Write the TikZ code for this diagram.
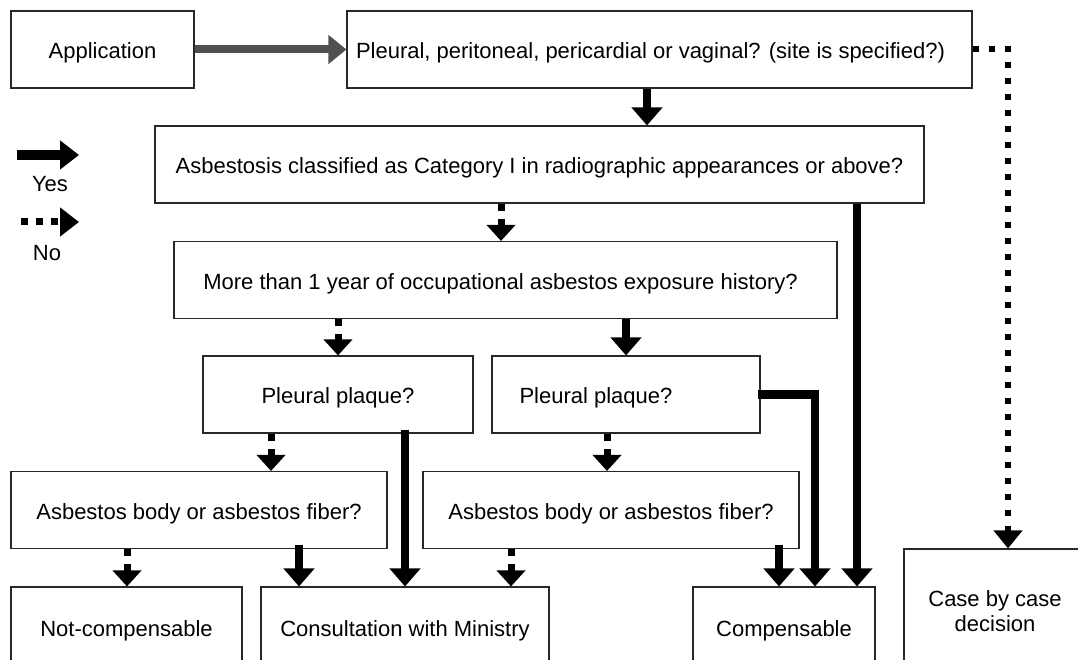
\documentclass[tikz,border=0pt]{standalone}
\usepackage{fontspec}
\setmainfont{Liberation Sans}
\usetikzlibrary{arrows.meta}
\definecolor{grayarrow}{RGB}{80,80,80}
\definecolor{boxline}{RGB}{40,40,40}
\begin{document}
\begin{tikzpicture}[x=1pt,y=-1pt,
  box/.style={draw=boxline, line width=1.1pt, inner sep=0pt, align=center,
    font=\fontsize{22}{25.5}\selectfont},
  oneline/.style={box, text height=18pt, text depth=0pt},
  lbl/.style={inner sep=0pt, font=\fontsize{22}{25.5}\selectfont},
  yesarr/.style={line width=8.5pt, -{Triangle[length=18pt,width=30pt]}},
  noarr/.style={line width=7pt, dash pattern=on 7pt off 8pt, -{Triangle[length=16pt,width=28pt]}},
  longno/.style={line width=6pt, dash pattern=on 6pt off 10pt, line join=miter, -{Triangle[length=18pt,width=28pt]}},
  grayarr/.style={draw=grayarrow, line width=8pt, -{Triangle[length=18pt,width=28pt,fill=grayarrow]}},
]
\useasboundingbox (0,0) rectangle (1078,660);
\clip (0,0) rectangle (1078,660);
\fill[white] (0,0) rectangle (1078,660);

% boxes
\node[oneline, minimum width=183pt, minimum height=77pt] (app) at (102.5,49.5) {Application};
\node[oneline, minimum width=625pt, minimum height=77pt] (pl) at (659.5,49.5) {Pleural, peritoneal, pericardial or vaginal? (site is specified?)\hspace*{18pt}};
\node[oneline, minimum width=769pt, minimum height=77pt] (asb) at (539.5,164.5) {Asbestosis classified as Category I in radiographic appearances or above?};
\node[oneline, minimum width=663pt, minimum height=77pt] (more) at (505.5,280) {More than 1 year of occupational asbestos exposure history?\hspace*{10pt}};
\node[oneline, minimum width=270pt, minimum height=77pt] (pp1) at (338,394.5) {Pleural plaque?};
\node[oneline, minimum width=268pt, minimum height=77pt] (pp2) at (626,394.5) {Pleural plaque?\hspace*{60pt}};
\node[oneline, minimum width=376pt, minimum height=77pt] (ab1) at (199,510) {Asbestos body or asbestos fiber?};
\node[oneline, minimum width=376pt, minimum height=77pt] (ab2) at (611,510) {Asbestos body or asbestos fiber?};
\node[oneline, minimum width=231pt, minimum height=81pt] (nc) at (126.5,627.5) {Not-compensable};
\node[oneline, minimum width=288pt, minimum height=81pt] (cons) at (405,627.5) {Consultation with Ministry};
\node[oneline, minimum width=182pt, minimum height=81pt] (comp) at (784,627.5) {Compensable};
\node[box, minimum width=182pt, minimum height=124pt] (case) at (995,611) {Case by case\\decision};

% legend
\coordinate (ys) at (17,155);
\coordinate (ye) at (79,155);
\coordinate (ns) at (21,222);
\coordinate (ne) at (79,222);
\draw[line width=10pt, -{Triangle[length=19pt,width=28pt]}] (ys) -- (ye);
\draw[line width=7pt, dash pattern=on 7pt off 8pt, -{Triangle[length=19pt,width=28pt]}] (ns) -- (ne);
\node[lbl] (yes) at (50,184) {Yes};
\node[lbl] (no) at (47,253) {No};

% connectors
\draw[grayarr] (app.east) -- (pl.west);
\draw[yesarr] (pl.south -| 647,0) -- (asb.north -| 647,0);
\draw[longno] (pl.east) -- (pl.east -| 1008,0) -- (case.north -| 1008,0);
\draw[noarr] (asb.south -| 501,0) -- (more.north -| 501,0);
\draw[yesarr] (asb.south -| 857,0) -- (comp.north -| 857,0);
\draw[noarr] (more.south -| 338,0) -- (pp1.north -| 338,0);
\draw[yesarr] (more.south -| 626,0) -- (pp2.north -| 626,0);
\draw[noarr] (pp1.south -| 271,0) -- (ab1.north -| 271,0);
\draw[yesarr] (pp1.south -| 405,0) ++(0,-4) -- (cons.north -| 405,0);
\draw[noarr] (pp2.south -| 607,0) -- (ab2.north -| 607,0);
\draw[yesarr, line join=miter] (pp2.east) ++(-3,0) -- (pp2.east -| 815,0) -- (comp.north -| 815,0);
\draw[noarr] (ab1.south -| 127,0) -- (nc.north -| 127,0);
\draw[yesarr] (ab1.south -| 299,0) ++(0,-4) -- (cons.north -| 299,0);
\draw[noarr] (ab2.south -| 511,0) -- (cons.north -| 511,0);
\draw[yesarr] (ab2.south -| 779,0) ++(0,-4) -- (comp.north -| 779,0);
\end{tikzpicture}
\end{document}
